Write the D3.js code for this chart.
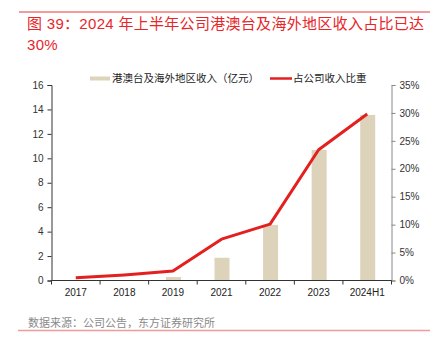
<!DOCTYPE html>
<html><head><meta charset="utf-8">
<script src="https://cdn.jsdelivr.net/npm/d3@7"></script>
<style>body{margin:0;background:#fff}svg{display:block;font-family:"Liberation Sans","Noto Sans CJK SC",sans-serif}</style>
</head><body><svg id="c" width="443" height="342"></svg>
<script>
const categories = ["2017","2018","2019","2021","2022","2023","2024H1"];
const revenue = [0, 0, 0.28, 1.86, 4.55, 10.69, 13.55];
const share = [0.48, 1.0, 1.7, 7.4, 10.1, 23.4, 29.8];
const leftTicks = [0,2,4,6,8,10,12,14,16];
const rightTicks = [0,5,10,15,20,25,30,35];
const titleLine1 = "图 39：2024 年上半年公司港澳台及海外地区收入占比已达";
const titleLine2 = "30%";
const legendBar = "港澳台及海外地区收入（亿元）";
const legendLine = "占公司收入比重";
const source = "数据来源：公司公告，东方证券研究所";

const svg = d3.select("#c");
const L = 51.5, R = 391.5, T = 85, B = 280.5;
const x = d3.scaleBand().domain(categories).range([L, R]);
const yL = d3.scaleLinear().domain([0,16]).range([B, T]);
const yR = d3.scaleLinear().domain([0,35]).range([B, T]);

// top / bottom rules
svg.append("line").attr("x1",19).attr("x2",430).attr("y1",12).attr("y2",12).attr("stroke","#e5393b").attr("stroke-width",1);
svg.append("line").attr("x1",18).attr("x2",430).attr("y1",330.5).attr("y2",330.5).attr("stroke","#f09a9a").attr("stroke-width",1.5);

// title
const tf = svg.append("g").attr("fill","#e8262a").style("font-family","'Liberation Sans','Noto Sans CJK SC',sans-serif").style("font-size","15px").style("letter-spacing","0.3px");
tf.append("text").attr("x",27).attr("y",29).text(titleLine1);
tf.append("text").attr("x",27).attr("y",50).text(titleLine2);

// bars
const bw = 15;
svg.append("g").selectAll("rect").data(revenue).join("rect")
  .attr("x",(d,i)=>x(categories[i])+x.bandwidth()/2-bw/2+0.5)
  .attr("width",bw)
  .attr("y",d=>yL(d))
  .attr("height",d=>B-yL(d))
  .attr("fill","#ddd3bb");

// line
const line = d3.line().x((d,i)=>x(categories[i])+x.bandwidth()/2).y(d=>yR(d));
svg.append("path").datum(share).attr("d",line).attr("fill","none").attr("stroke","#e3201f").attr("stroke-width",3).attr("stroke-linejoin","round");

// left axis
const ga = svg.append("g").attr("transform",`translate(${L},0)`)
  .call(d3.axisLeft(yL).tickValues(leftTicks).tickSize(4).tickPadding(4));
ga.select(".domain").attr("stroke","#333");
ga.selectAll(".tick line").attr("stroke","#333");
ga.selectAll("text").attr("fill","#333").style("font-size","10px");

// right axis
const gr = svg.append("g").attr("transform",`translate(${R},0)`)
  .call(d3.axisRight(yR).tickValues(rightTicks).tickFormat(d=>d+"%").tickSize(4).tickPadding(4));
gr.select(".domain").attr("stroke","#888");
gr.selectAll(".tick line").attr("stroke","#888");
gr.selectAll("text").attr("fill","#333").style("font-size","10px");

// bottom axis
const gb = svg.append("g").attr("transform",`translate(0,${B})`);
gb.append("line").attr("x1",L).attr("x2",R).attr("stroke","#333");
const edges = categories.map(c=>x(c)).concat([R]);
gb.selectAll("line.t").data(edges).join("line").attr("class","t")
  .attr("x1",d=>d).attr("x2",d=>d).attr("y1",0).attr("y2",4).attr("stroke","#333");
gb.selectAll("text").data(categories).join("text")
  .attr("x",d=>x(d)+x.bandwidth()/2).attr("y",15).attr("text-anchor","middle")
  .attr("fill","#222").style("font-size","10px").text(d=>d);

// legend
const lg = svg.append("g").style("font-size","10.5px").attr("fill","#222");
lg.append("rect").attr("x",90).attr("y",76.5).attr("width",20).attr("height",4).attr("fill","#ddd3bb");
lg.append("text").attr("x",112).attr("y",82).text(legendBar);
lg.append("line").attr("x1",270).attr("x2",292).attr("y1",78.5).attr("y2",78.5).attr("stroke","#e3201f").attr("stroke-width",2.5);
lg.append("text").attr("x",293).attr("y",82).text(legendLine);

// source
svg.append("text").attr("x",28).attr("y",327).attr("fill","#8a8a8a").style("font-size","11px").text(source);
</script></body></html>
